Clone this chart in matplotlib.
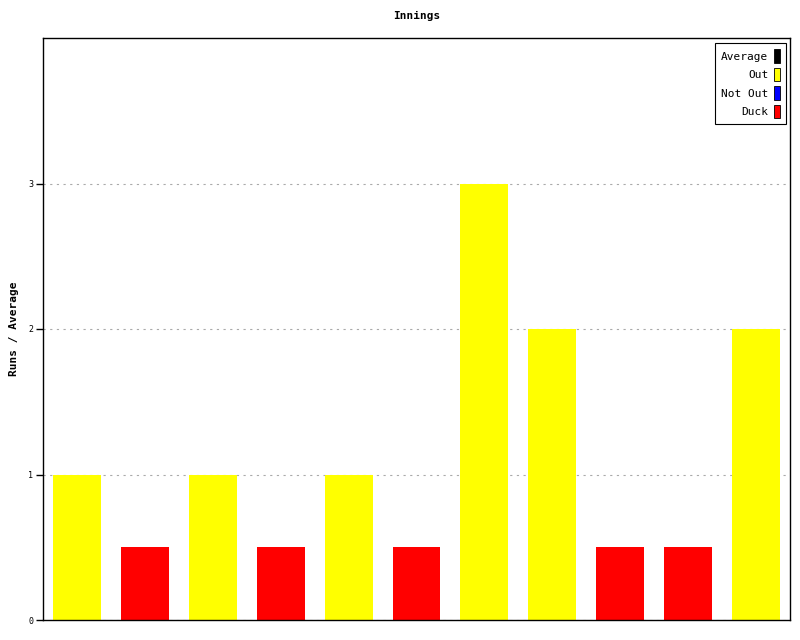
import numpy as np
import matplotlib.pyplot as plt
from matplotlib.patches import Patch

# innings data
runs = [1, 0.5, 1, 0.5, 1, 0.5, 3, 2, 0.5, 0.5, 2]
kinds = ["Out", "Duck", "Out", "Duck", "Out", "Duck", "Out", "Out", "Duck", "Duck", "Out"]
colours = {"Average": "#000000", "Out": "#ffff00", "Not Out": "#0000ff", "Duck": "#ff0000"}
yticks = [0, 1, 2, 3]

plt.rcParams['font.family'] = ['DejaVu Sans Mono']

fig = plt.figure(figsize=(8, 6.4), dpi=100)
ax = fig.add_axes([43 / 800, 20 / 640, 747 / 800, 582 / 640])

x = np.arange(len(runs))
ax.bar(x, runs, width=48 / 68, color=[colours[k] for k in kinds], zorder=2)

ax.set_xlim(-0.5, len(runs) - 0.5)
ax.set_ylim(0, 4)
ax.set_xticks([])
ax.set_yticks(yticks)
ax.set_yticklabels([str(t) for t in yticks], fontsize=6)
ax.tick_params(axis='y', length=5, width=1, pad=2)
ax.yaxis.grid(True, linestyle=(0, (2, 4)), color="#aaaaaa", linewidth=0.8, zorder=0)
for s in ax.spines.values():
    s.set_linewidth(1)

ax.set_ylabel("Runs / Average", fontsize=8, fontweight='bold')
ax.yaxis.set_label_coords(-24 / 747, 0.5)
ax.set_title("Innings", fontsize=8, fontweight='bold', pad=14)

handles = [Patch(facecolor=c, edgecolor='black', linewidth=0.6, label=k) for k, c in colours.items()]
leg = ax.legend(handles=handles, loc='upper right', markerfirst=False, fontsize=8,
                handlelength=0.55, handleheight=1.5, handletextpad=0.5, labelspacing=0.45,
                borderpad=0.55, borderaxespad=0, fancybox=False, framealpha=1, edgecolor='black',
                bbox_to_anchor=(1 - 4 / 747, 1 - 5 / 582))
leg.get_frame().set_linewidth(0.8)
for t in leg.get_texts():
    t.set_ha('right')

fig.savefig("out.png", dpi=100)
